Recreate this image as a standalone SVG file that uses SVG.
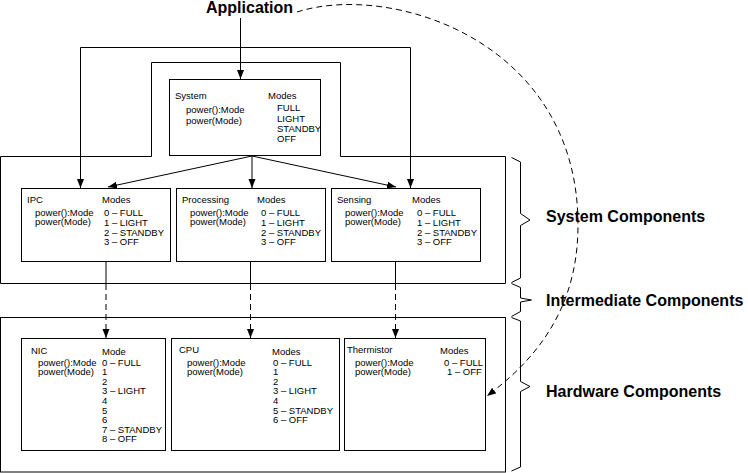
<svg xmlns="http://www.w3.org/2000/svg" width="748" height="473" viewBox="0 0 748 473">
<style>
  .t{font-family:"Liberation Sans",Arial,sans-serif;font-size:9.5px;fill:#000}
  .big{font-family:"Liberation Sans",Arial,sans-serif;font-size:16px;font-weight:bold;fill:#000}
  .box{fill:#fff;stroke:#000;stroke-width:1}
  .frame{fill:none;stroke:#000;stroke-width:1}
  .ln{fill:none;stroke:#000;stroke-width:1}
  .dash{fill:none;stroke:#000;stroke-width:1;stroke-dasharray:6 4}
</style>
<defs>
  <marker id="ah" markerUnits="userSpaceOnUse" markerWidth="10" markerHeight="8" refX="9" refY="3.5" orient="auto">
    <path d="M0,0 L9,3.5 L0,7 z" fill="#000"/>
  </marker>
</defs>
<rect width="748" height="473" fill="#fff"/>

<g id="regions">
  <path id="system-components-frame" class="frame" d="M0.5,156.5 H151.5 V62.5 H340.5 V156.5 H505.5 V283.5 H0.5 Z"/>
  <rect id="hardware-components-frame" class="frame" x="0.5" y="317.5" width="505" height="154.5"/>
</g>

<g id="application">
  <text class="big" x="206" y="13">Application</text>
</g>

<g id="system">
  <rect class="box" x="169.5" y="79.5" width="151" height="76"/>
  <text class="t" x="175" y="99">System</text>
  <text class="t" x="268" y="99">Modes</text>
  <text class="t" x="186" y="113">power():Mode</text>
  <text class="t" x="186" y="124">power(Mode)</text>
  <text class="t" x="277" y="111">FULL</text>
  <text class="t" x="277" y="121.5">LIGHT</text>
  <text class="t" x="277" y="131.5">STANDBY</text>
  <text class="t" x="277" y="141.5">OFF</text>
</g>

<g id="ipc">
  <rect class="box" x="21.5" y="188.5" width="149" height="73"/>
  <text class="t" x="27" y="203">IPC</text>
  <text class="t" x="102" y="203">Modes</text>
  <text class="t" x="35" y="215.5">power():Mode</text>
  <text class="t" x="35" y="225">power(Mode)</text>
  <text class="t" x="104" y="215.5">0 – FULL</text>
  <text class="t" x="104" y="225.5">1 – LIGHT</text>
  <text class="t" x="104" y="235.5">2 – STANDBY</text>
  <text class="t" x="104" y="245">3 – OFF</text>
</g>

<g id="processing">
  <rect class="box" x="176.5" y="188.5" width="149" height="73"/>
  <text class="t" x="182" y="203">Processing</text>
  <text class="t" x="257" y="203">Modes</text>
  <text class="t" x="190" y="215.5">power():Mode</text>
  <text class="t" x="190" y="225">power(Mode)</text>
  <text class="t" x="261" y="215.5">0 – FULL</text>
  <text class="t" x="261" y="225.5">1 – LIGHT</text>
  <text class="t" x="261" y="235.5">2 – STANDBY</text>
  <text class="t" x="261" y="245">3 – OFF</text>
</g>

<g id="sensing">
  <rect class="box" x="331.5" y="188.5" width="149" height="73"/>
  <text class="t" x="337" y="203">Sensing</text>
  <text class="t" x="412" y="203">Modes</text>
  <text class="t" x="345" y="215.5">power():Mode</text>
  <text class="t" x="345" y="225">power(Mode)</text>
  <text class="t" x="417" y="215.5">0 – FULL</text>
  <text class="t" x="417" y="225.5">1 – LIGHT</text>
  <text class="t" x="417" y="235.5">2 – STANDBY</text>
  <text class="t" x="417" y="245">3 – OFF</text>
</g>

<g id="nic">
  <rect class="box" x="21.5" y="338.5" width="144" height="112"/>
  <text class="t" x="31" y="354">NIC</text>
  <text class="t" x="102" y="355">Mode</text>
  <text class="t" x="38" y="365.5">power():Mode</text>
  <text class="t" x="38" y="375">power(Mode)</text>
  <text class="t" x="102" y="365.5">0 – FULL</text>
  <text class="t" x="102" y="375">1</text>
  <text class="t" x="102" y="384.5">2</text>
  <text class="t" x="102" y="394">3 – LIGHT</text>
  <text class="t" x="102" y="404">4</text>
  <text class="t" x="102" y="413.5">5</text>
  <text class="t" x="102" y="423">6</text>
  <text class="t" x="102" y="432.5">7 – STANDBY</text>
  <text class="t" x="102" y="442">8 – OFF</text>
</g>

<g id="cpu">
  <rect class="box" x="171.5" y="338.5" width="168" height="112"/>
  <text class="t" x="179" y="353">CPU</text>
  <text class="t" x="272" y="355">Modes</text>
  <text class="t" x="187" y="365.5">power():Mode</text>
  <text class="t" x="187" y="375">power(Mode)</text>
  <text class="t" x="273" y="365.5">0 – FULL</text>
  <text class="t" x="273" y="375">1</text>
  <text class="t" x="273" y="384.5">2</text>
  <text class="t" x="273" y="394">3 – LIGHT</text>
  <text class="t" x="273" y="404">4</text>
  <text class="t" x="273" y="413.5">5 – STANDBY</text>
  <text class="t" x="273" y="423">6 – OFF</text>
</g>

<g id="thermistor">
  <rect class="box" x="344.5" y="338.5" width="141" height="112"/>
  <text class="t" x="347" y="353">Thermistor</text>
  <text class="t" x="440" y="354">Modes</text>
  <text class="t" x="355" y="365.5">power():Mode</text>
  <text class="t" x="355" y="375">power(Mode)</text>
  <text class="t" x="444" y="365.5">0 – FULL</text>
  <text class="t" x="447" y="375">1 – OFF</text>
</g>

<g id="connectors">
  <path class="ln" d="M240.5,18 V79" marker-end="url(#ah)"/>
  <path class="ln" d="M240.5,47.5 H80.5 V188" marker-end="url(#ah)"/>
  <path class="ln" d="M240.5,47.5 H410.5 V188" marker-end="url(#ah)"/>
  <path class="ln" d="M252,156 L108,187" marker-end="url(#ah)"/>
  <path class="ln" d="M252,156 L252,188" marker-end="url(#ah)"/>
  <path class="ln" d="M252,156 L396,187" marker-end="url(#ah)"/>
  <path class="ln" d="M106,262 V284"/>
  <path class="dash" d="M106,284 V338" marker-end="url(#ah)"/>
  <path class="ln" d="M250.5,262 V284"/>
  <path class="dash" d="M250.5,284 V338" marker-end="url(#ah)"/>
  <path class="ln" d="M395.5,262 V284"/>
  <path class="dash" d="M395.5,284 V338" marker-end="url(#ah)"/>
  <path class="dash" d="M297,12 C390,-18 578,40 578,225 C578,310 535,360 487,396" marker-end="url(#ah)"/>
</g>

<g id="braces">
  <path class="ln" d="M511.5,157.5 L520.5,162 V213.5 L530,220 L520.5,225.5 V278 L511.5,282.5"/>
  <path class="ln" d="M511.5,283.5 L520.5,287.5 V298 L531.5,300 L520.5,302 V311.5 L511.5,316.5"/>
  <path class="ln" d="M511.5,317.5 L520.5,321 V381.5 L530,386.5 L520.5,391.5 V467 L511.5,471"/>
</g>

<g id="labels">
  <text class="big" x="546" y="222">System Components</text>
  <text class="big" x="546" y="306">Intermediate Components</text>
  <text class="big" x="546" y="397">Hardware Components</text>
</g>
</svg>
